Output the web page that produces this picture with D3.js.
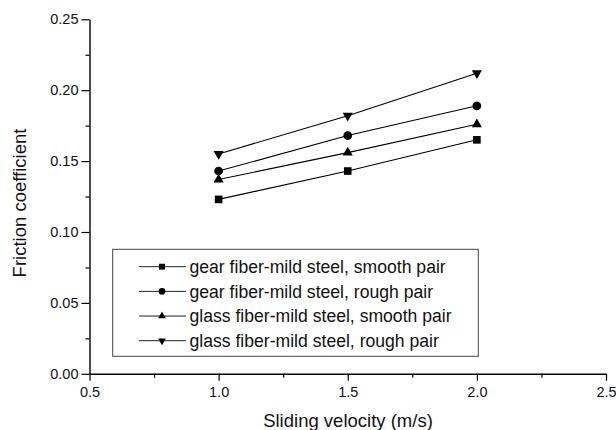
<!DOCTYPE html>
<html>
<head>
<meta charset="utf-8">
<script src="https://cdn.jsdelivr.net/npm/d3@7"></script>
<style>
  html, body { margin: 0; padding: 0; background: #fff; }
  svg { display: block; }
  text { font-family: Arial, "Liberation Sans", sans-serif; fill: #111; }
</style>
</head>
<body>
<svg id="chart" width="616" height="430"></svg>
<script>
// Sliding velocity (m/s)
const velocity = [1.0, 1.5, 2.0];

// Friction coefficient for each material pair
const gearSmooth  = [0.123, 0.143, 0.165];
const gearRough   = [0.143, 0.168, 0.189];
const glassSmooth = [0.137, 0.156, 0.176];
const glassRough  = [0.155, 0.182, 0.212];

const seriesNames = [
  "gear fiber-mild steel, smooth pair",
  "gear fiber-mild steel, rough pair",
  "glass fiber-mild steel, smooth pair",
  "glass fiber-mild steel, rough pair"
];

const xTicks = [0.5, 1.0, 1.5, 2.0, 2.5];
const xMinorTicks = [0.75, 1.25, 1.75, 2.25];
const yTicks = [0.00, 0.05, 0.10, 0.15, 0.20, 0.25];
const yMinorTicks = [0.025, 0.075, 0.125, 0.175, 0.225];

const series = [
  { name: seriesNames[0], values: gearSmooth,  symbol: d3.symbolSquare,   size: 58, rot: 0 },
  { name: seriesNames[1], values: gearRough,   symbol: d3.symbolCircle,   size: 60, rot: 0 },
  { name: seriesNames[2], values: glassSmooth, symbol: d3.symbolTriangle, size: 44, rot: 0 },
  { name: seriesNames[3], values: glassRough,  symbol: d3.symbolTriangle, size: 44, rot: 180 }
];

const svg = d3.select("#chart");

const x = d3.scaleLinear().domain([0.5, 2.5]).range([89.5, 606]);
const y = d3.scaleLinear().domain([0, 0.25]).range([373.8, 19.3]);

// Axes: major ticks with labels, minor ticks without
const xAxis = svg.append("g").attr("transform", `translate(0,${y(0)})`);
xAxis.call(d3.axisBottom(x).tickValues(xTicks).tickSize(7).tickSizeOuter(0)
  .tickPadding(6).tickFormat(d3.format(".1f")));
xAxis.append("g").call(d3.axisBottom(x).tickValues(xMinorTicks).tickSize(4).tickFormat(""))
  .select(".domain").remove();

const yAxis = svg.append("g").attr("transform", `translate(${x(0.5)},0)`);
yAxis.call(d3.axisLeft(y).tickValues(yTicks).tickSize(8).tickSizeOuter(0)
  .tickPadding(3).tickFormat(d3.format(".2f")));
yAxis.append("g").call(d3.axisLeft(y).tickValues(yMinorTicks).tickSize(4).tickFormat(""))
  .select(".domain").remove();

svg.selectAll(".domain").attr("stroke", "#000").attr("stroke-width", 1.4);
svg.selectAll(".tick line").attr("stroke", "#000").attr("stroke-width", 1.2);
svg.selectAll(".tick text").attr("font-size", "14.5px").attr("fill", "#111")
  .attr("font-family", "Arial, 'Liberation Sans', sans-serif");

// Axis titles
svg.append("text")
  .attr("x", 348).attr("y", 427)
  .attr("text-anchor", "middle")
  .attr("font-size", "18.5px")
  .text("Sliding velocity (m/s)");

svg.append("text")
  .attr("transform", "translate(26,203) rotate(-90)")
  .attr("text-anchor", "middle")
  .attr("font-size", "18.5px")
  .text("Friction coefficient");

// Series lines and markers
const line = d3.line().x((d, i) => x(velocity[i])).y(d => y(d));

series.forEach(s => {
  svg.append("path")
    .attr("d", line(s.values))
    .attr("fill", "none")
    .attr("stroke", "#000")
    .attr("stroke-width", 1.1);
  svg.append("g").selectAll("path")
    .data(s.values)
    .join("path")
    .attr("d", d3.symbol().type(s.symbol).size(s.size))
    .attr("transform", (d, i) => `translate(${x(velocity[i])},${y(d)}) rotate(${s.rot})`)
    .attr("fill", "#000");
});

// Legend
const legend = svg.append("g");
legend.append("rect")
  .attr("x", 112.7).attr("y", 249.3)
  .attr("width", 365.6).attr("height", 107)
  .attr("fill", "#fff")
  .attr("stroke", "#444")
  .attr("stroke-width", 1);

const rowY = d3.scalePoint().domain(seriesNames).range([266.7, 340.7]);

series.forEach(s => {
  const cy = rowY(s.name);
  legend.append("line")
    .attr("x1", 139).attr("x2", 186)
    .attr("y1", cy).attr("y2", cy)
    .attr("stroke", "#222").attr("stroke-width", 1);
  legend.append("path")
    .attr("d", d3.symbol().type(s.symbol).size(s.size * 0.6))
    .attr("transform", `translate(162,${cy}) rotate(${s.rot})`)
    .attr("fill", "#000");
  legend.append("text")
    .attr("x", 189.5).attr("y", cy)
    .attr("dy", "0.36em")
    .attr("font-size", "17.6px")
    .text(s.name);
});
</script>
</body>
</html>
